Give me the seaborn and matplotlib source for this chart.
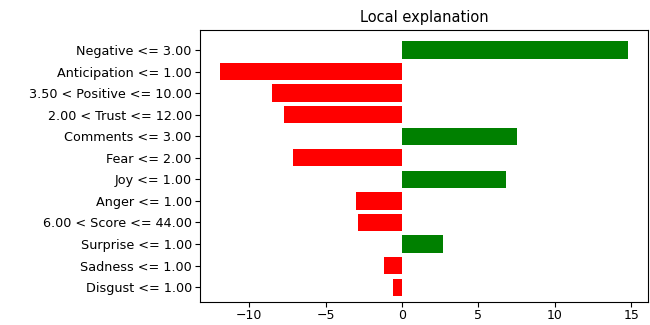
import matplotlib
matplotlib.use("Agg")
import matplotlib.pyplot as plt
import seaborn as sns

# feature conditions, top to bottom
labels = ["Negative <= 3.00", "Anticipation <= 1.00", "3.50 < Positive <= 10.00",
          "2.00 < Trust <= 12.00", "Comments <= 3.00", "Fear <= 2.00", "Joy <= 1.00",
          "Anger <= 1.00", "6.00 < Score <= 44.00", "Surprise <= 1.00",
          "Sadness <= 1.00", "Disgust <= 1.00"]
weights = [14.8, -11.9, -8.5, -7.7, 7.5, -7.1, 6.8, -3.0, -2.9, 2.7, -1.2, -0.6]
colors = ["green" if w > 0 else "red" for w in weights]

fig, ax = plt.subplots(figsize=(6.5, 3.25), dpi=100)
sns.barplot(x=weights, y=labels, hue=labels, palette=colors, legend=False,
            orient="h", saturation=1, width=0.8, ax=ax)
ax.set_ylim(11.67, -0.93)
ax.set_xlim(-13.2, 16.1)
ax.set_xticks([-10, -5, 0, 5, 10, 15])
ax.tick_params(axis="y", labelsize=9.2, pad=2.5)
ax.tick_params(axis="x", labelsize=9, pad=2)
ax.set_title("Local explanation", fontsize=10.5)
ax.set_xlabel("")
ax.set_ylabel("")
for s in ax.spines.values():
    s.set_visible(True)
fig.subplots_adjust(left=0.308, right=0.997, top=0.908, bottom=0.072)
fig.savefig("out.png", dpi=100)
